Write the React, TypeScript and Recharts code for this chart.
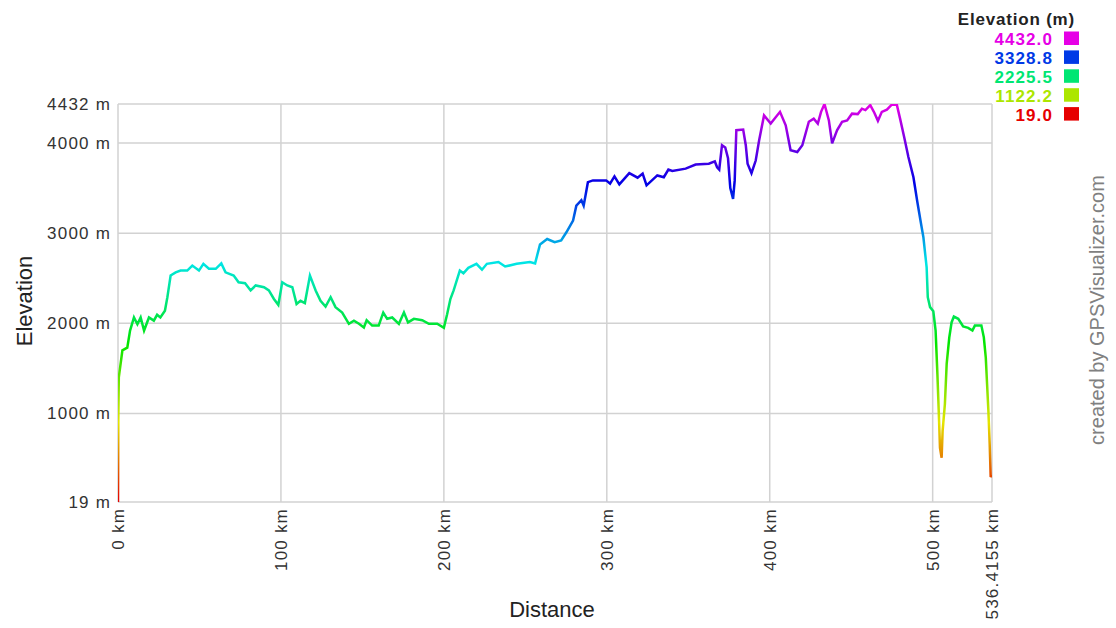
import React from 'react';
import { LineChart, Line, XAxis, YAxis, CartesianGrid } from 'recharts';

const distanceKm = [
  0, 0.2, 0.5, 2.7, 5.7, 7.4, 9.8, 11.9, 13.9, 16, 19, 22, 24, 26, 28.8, 30.3, 32.3, 35.4, 38.4, 42.5,
  45.6, 49.7, 52.4, 55.8, 60, 63.4, 66, 71, 74, 78, 81.4, 84.5, 89.6, 92.6, 95.7, 98.4, 100.8, 103.9, 107, 109.6,
  112, 114.7, 117.8, 121.3, 124.3, 127.4, 130.5, 133.5, 137.6, 141.7, 144.8, 147.9, 150.9, 152.6, 156, 160, 162.8, 165.2, 168.3, 172.4,
  175.5, 178, 181.6, 186.7, 190.8, 195.9, 200, 202, 204, 206, 209.8, 212, 215, 220, 223.4, 226.4, 233.5, 237.6, 244.7, 252.8,
  256, 259, 263.4, 268, 272, 275.2, 279.3, 281.3, 284.4, 285.8, 288.4, 291.5, 299.6, 302, 304.7, 307.7, 313.8, 318.9, 322, 324.4,
  331, 335, 337.8, 340.2, 348.4, 354.5, 362.6, 366.3, 367.7, 369, 370.7, 372.7, 374.4, 375.8, 377.5, 378.5, 379.5, 383.7, 385.3, 386.4,
  388.8, 391.4, 393.5, 396.5, 400.6, 406.3, 409.8, 412.8, 416.9, 420, 424, 427, 429.5, 431.5, 433.6, 436.3, 438.3, 441.3, 444.4, 447.5,
  450.5, 454, 456.6, 458.7, 461.7, 464.2, 466.4, 468.8, 471.9, 474.9, 478, 480, 482.5, 485.1, 488.2, 490.6, 492.7, 494.3, 496.3, 497,
  498.4, 500.4, 501.8, 502.9, 503.5, 504.5, 505.5, 506.1, 507.5, 508.6, 510.2, 511.6, 513, 515.7, 518.7, 521.8, 524.4, 525.9, 529.9, 531.4,
  532.6, 533.4, 534.2, 535, 535.6, 536.4155,
];

const elevationM = [
  19, 930, 1400, 1700, 1730, 1920, 2065, 1990, 2065, 1920, 2065, 2030, 2095, 2065, 2140, 2290, 2530, 2565, 2585, 2585,
  2640, 2585, 2660, 2605, 2605, 2665, 2565, 2530, 2455, 2445, 2365, 2420, 2400, 2365, 2270, 2205, 2455, 2420, 2400, 2215,
  2250, 2225, 2530, 2365, 2250, 2185, 2290, 2180, 2120, 1995, 2030, 1995, 1955, 2035, 1975, 1975, 2120, 2050, 2065, 1995,
  2120, 2010, 2050, 2035, 1995, 1995, 1950, 2100, 2270, 2365, 2585, 2555, 2615, 2660, 2595, 2660, 2680, 2630, 2660, 2680,
  2665, 2875, 2935, 2900, 2920, 3010, 3140, 3305, 3365, 3305, 3565, 3585, 3585, 3550, 3630, 3540, 3665, 3615, 3660, 3530,
  3640, 3620, 3705, 3690, 3715, 3760, 3770, 3795, 3730, 3705, 3975, 3950, 3830, 3500, 3380, 3585, 4141, 4148, 3975, 3770,
  3665, 3805, 4030, 4305, 4215, 4345, 4195, 3920, 3900, 3975, 4235, 4270, 4215, 4345, 4432, 4250, 3995, 4140, 4235, 4250,
  4325, 4320, 4380, 4365, 4420, 4335, 4245, 4345, 4370, 4425, 4425, 4270, 4065, 3845, 3620, 3345, 3120, 2955, 2620, 2290,
  2180, 2135, 1920, 1440, 1140, 620, 510, 805, 1105, 1550, 1845, 2010, 2075, 2050, 1965, 1950, 1920, 1975, 1975, 1845,
  1620, 1325, 1030, 660, 305, 300,
];

const xTicks = [0, 100, 200, 300, 400, 500, 536.4155];
const xTickLabels = ['0 km', '100 km', '200 km', '300 km', '400 km', '500 km', '536.4155 km'];
const yTicks = [19, 1000, 2000, 3000, 4000, 4432];
const yTickLabels = ['19 m', '1000 m', '2000 m', '3000 m', '4000 m', '4432 m'];

const legendValues = ['4432.0', '3328.8', '2225.5', '1122.2', '19.0'];
const legendHues = [300, 225, 150, 75, 0];
const gradientHues = [0, 30, 60, 90, 120, 150, 180, 210, 240, 270, 300];

const data = distanceKm.map((d, i) => ({ km: d, ele: elevationM[i] }));

const FONT = '"Liberation Sans", Arial, Helvetica, sans-serif';

const XTick = (props: any) => {
  const { x, y, payload } = props;
  const idx = xTicks.indexOf(payload.value);
  const label = idx >= 0 ? xTickLabels[idx] : String(payload.value);
  return (
    <text
      x={x}
      y={y}
      transform={`rotate(-90, ${x}, ${y})`}
      textAnchor="end"
      dy="0.35em"
      fill="#333"
      style={{ fontFamily: FONT, fontSize: 17, letterSpacing: 1.2 }}
    >
      {label}
    </text>
  );
};

const YTick = (props: any) => {
  const { x, y, payload } = props;
  const idx = yTicks.indexOf(payload.value);
  const label = idx >= 0 ? yTickLabels[idx] : String(payload.value);
  return (
    <text
      x={x}
      y={y}
      textAnchor="end"
      dy="0.35em"
      fill="#333"
      style={{ fontFamily: FONT, fontSize: 17, letterSpacing: 1.2 }}
    >
      {label}
    </text>
  );
};

export default function App() {
  return (
    <div style={{ position: 'absolute', left: 0, top: 0, width: 1116, height: 628, background: '#fff' }}>
      <LineChart
        width={1116}
        height={628}
        data={data}
        margin={{ top: 104, right: 124, bottom: 0, left: 0 }}
      >
        <defs>
          <linearGradient id="eleGrad" x1="0" y1="1" x2="0" y2="0">
            {gradientHues.map((h, i) => (
              <stop key={i} offset={`${(i / (gradientHues.length - 1)) * 100}%`} stopColor={`hsl(${h}, 100%, 45%)`} />
            ))}
          </linearGradient>
        </defs>
        <CartesianGrid stroke="#d2d2d2" strokeWidth={1.5} />
        <XAxis
          dataKey="km"
          type="number"
          domain={[0, 536.4155]}
          ticks={xTicks}
          interval={0}
          height={126}
          tickSize={0}
          tickMargin={6}
          axisLine={false}
          tickLine={false}
          tick={<XTick />}
          allowDataOverflow
        />
        <YAxis
          dataKey="ele"
          type="number"
          domain={[19, 4432]}
          ticks={yTicks}
          interval={0}
          width={118}
          tickSize={0}
          tickMargin={7}
          axisLine={false}
          tickLine={false}
          tick={<YTick />}
          allowDataOverflow
        />
        <Line
          type="linear"
          dataKey="ele"
          stroke="url(#eleGrad)"
          strokeWidth={2.5}
          dot={false}
          activeDot={false}
          isAnimationActive={false}
        />
      </LineChart>
      <svg
        width={1116}
        height={628}
        style={{ position: 'absolute', left: 0, top: 0, pointerEvents: 'none' }}
      >
        <text
          x={31.5}
          y={301}
          transform="rotate(-90, 31.5, 301)"
          textAnchor="middle"
          fill="#222"
          style={{ fontFamily: FONT, fontSize: 22 }}
        >
          Elevation
        </text>
        <text x={552} y={617} textAnchor="middle" fill="#222" style={{ fontFamily: FONT, fontSize: 22 }}>
          Distance
        </text>
        <text
          x={1104}
          y={310}
          transform="rotate(-90, 1104, 310)"
          textAnchor="middle"
          fill="#808080"
          style={{ fontFamily: FONT, fontSize: 20 }}
        >
          created by GPSVisualizer.com
        </text>
        <text
          x={1075}
          y={25}
          textAnchor="end"
          fill="#222"
          style={{ fontFamily: FONT, fontSize: 17, fontWeight: 'bold', letterSpacing: 0.8 }}
        >
          Elevation (m)
        </text>
        {legendValues.map((v, i) => {
          const base = 45 + i * 18.9;
          const color = `hsl(${legendHues[i]}, 100%, 45%)`;
          return (
            <g key={v}>
              <text
                x={1053}
                y={base}
                textAnchor="end"
                fill={color}
                style={{ fontFamily: FONT, fontSize: 17, fontWeight: 'bold', letterSpacing: 1.1 }}
              >
                {v}
              </text>
              <rect x={1064} y={base - 13.5} width={15} height={13.5} fill={color} />
            </g>
          );
        })}
      </svg>
    </div>
  );
}
